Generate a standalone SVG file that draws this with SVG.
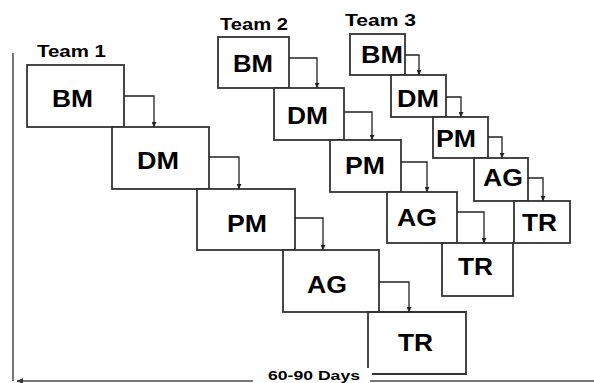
<svg xmlns="http://www.w3.org/2000/svg" width="594" height="383" viewBox="0 0 594 383">
  <defs>
    <marker id="ah" viewBox="0 0 8 8" refX="8" refY="4" markerWidth="5" markerHeight="5" markerUnits="userSpaceOnUse" orient="auto">
      <path d="M0,0 L8,4 L0,8 Z" fill="#222"/>
    </marker>
    <marker id="axh" viewBox="0 0 8 8" refX="0" refY="4" markerWidth="6" markerHeight="6" markerUnits="userSpaceOnUse" orient="auto">
      <path d="M8,0 L0,4 L8,8 Z" fill="#333"/>
    </marker>
    <style>
      .box { fill: #fff; stroke: #333; stroke-width: 1.8; }
      .lbl { font-family: "Liberation Sans", Arial, sans-serif; font-weight: bold; font-size: 23px; fill: #000; }
      .team { font-family: "Liberation Sans", Arial, sans-serif; font-weight: bold; font-size: 16.5px; fill: #000; }
      .flow { fill: none; stroke: #222; stroke-width: 1.3; marker-end: url(#ah); }
      .axis { fill: none; stroke: #777; stroke-width: 2; }
    </style>
  </defs>

  <!-- timeline axes -->
  <g id="axes">
    <path class="axis" d="M13,53 V381"/>
    <path class="axis" d="M253,381 H17"/>
    <path d="M17,381 h1" stroke="#333" marker-start="url(#axh)"/>
    <path class="axis" d="M370,381 H594"/>
    <text class="team" x="268" y="379.5" textLength="92" lengthAdjust="spacingAndGlyphs" style="font-size:13.5px">60-90 Days</text>
  </g>

  <!-- team headings -->
  <g id="team-labels">
    <text class="team" x="37" y="57" textLength="69" lengthAdjust="spacingAndGlyphs">Team 1</text>
    <text class="team" x="220" y="30" textLength="68" lengthAdjust="spacingAndGlyphs">Team 2</text>
    <text class="team" x="345" y="26" textLength="71" lengthAdjust="spacingAndGlyphs">Team 3</text>
  </g>

  <!-- Team 1 -->
  <g id="t1-bm"><rect class="box" x="27" y="65" width="97" height="62"/><text class="lbl" x="52" y="107" textLength="41" lengthAdjust="spacingAndGlyphs">BM</text></g>
  <g id="t1-dm"><rect class="box" x="112" y="127" width="97" height="62"/><text class="lbl" x="137" y="169" textLength="42" lengthAdjust="spacingAndGlyphs">DM</text></g>
  <g id="t1-pm"><rect class="box" x="197" y="189" width="98" height="61"/><text class="lbl" x="227" y="232" textLength="40" lengthAdjust="spacingAndGlyphs">PM</text></g>
  <g id="t1-ag"><rect class="box" x="283" y="250" width="96" height="62"/><text class="lbl" x="307" y="293" textLength="40" lengthAdjust="spacingAndGlyphs">AG</text></g>
  <g id="t1-tr">
    <path class="box" d="M368,368 V312 H466 V374 H372"/>
    <text class="lbl" x="398" y="351" textLength="35" lengthAdjust="spacingAndGlyphs">TR</text>
  </g>

  <!-- Team 2 -->
  <g id="t2-bm"><rect class="box" x="218" y="37" width="71" height="51"/><text class="lbl" x="233" y="72" textLength="40" lengthAdjust="spacingAndGlyphs">BM</text></g>
  <g id="t2-dm"><rect class="box" x="274" y="88" width="70" height="52"/><text class="lbl" x="287" y="124" textLength="41" lengthAdjust="spacingAndGlyphs">DM</text></g>
  <g id="t2-pm"><rect class="box" x="330" y="140" width="71" height="52"/><text class="lbl" x="345" y="174" textLength="40" lengthAdjust="spacingAndGlyphs">PM</text></g>
  <g id="t2-ag"><rect class="box" x="387" y="192" width="70" height="51"/><text class="lbl" x="397" y="226" textLength="40" lengthAdjust="spacingAndGlyphs">AG</text></g>
  <g id="t2-tr"><rect class="box" x="442" y="243" width="71" height="53"/><text class="lbl" x="458" y="275" textLength="35" lengthAdjust="spacingAndGlyphs">TR</text></g>

  <!-- Team 3 -->
  <g id="t3-bm"><rect class="box" x="350" y="34" width="55" height="41"/><text class="lbl" x="361" y="63" textLength="42" lengthAdjust="spacingAndGlyphs">BM</text></g>
  <g id="t3-dm"><rect class="box" x="391" y="75" width="55" height="42"/><text class="lbl" x="397" y="107" textLength="42" lengthAdjust="spacingAndGlyphs">DM</text></g>
  <g id="t3-pm"><rect class="box" x="433" y="117" width="55" height="41"/><text class="lbl" x="436" y="147" textLength="40" lengthAdjust="spacingAndGlyphs">PM</text></g>
  <g id="t3-ag"><rect class="box" x="474" y="158" width="54" height="43"/><text class="lbl" x="483" y="186" textLength="40" lengthAdjust="spacingAndGlyphs">AG</text></g>
  <g id="t3-tr"><rect class="box" x="514" y="201" width="56" height="42"/><text class="lbl" x="522" y="231" textLength="35" lengthAdjust="spacingAndGlyphs">TR</text></g>

  <!-- hand-off connectors -->
  <g id="connectors">
    <path class="flow" d="M124,96 H154 V127"/>
    <path class="flow" d="M209,157 H239 V189"/>
    <path class="flow" d="M295,218 H323 V250"/>
    <path class="flow" d="M379,282 H409 V312"/>

    <path class="flow" d="M289,58 H317 V88"/>
    <path class="flow" d="M344,112 H372 V140"/>
    <path class="flow" d="M401,162 H427 V192"/>
    <path class="flow" d="M457,212 H484 V243"/>

    <path class="flow" d="M405,55 H419 V75"/>
    <path class="flow" d="M446,97 H461 V117"/>
    <path class="flow" d="M488,137 H502 V158"/>
    <path class="flow" d="M528,178 H543 V201"/>
  </g>
</svg>
